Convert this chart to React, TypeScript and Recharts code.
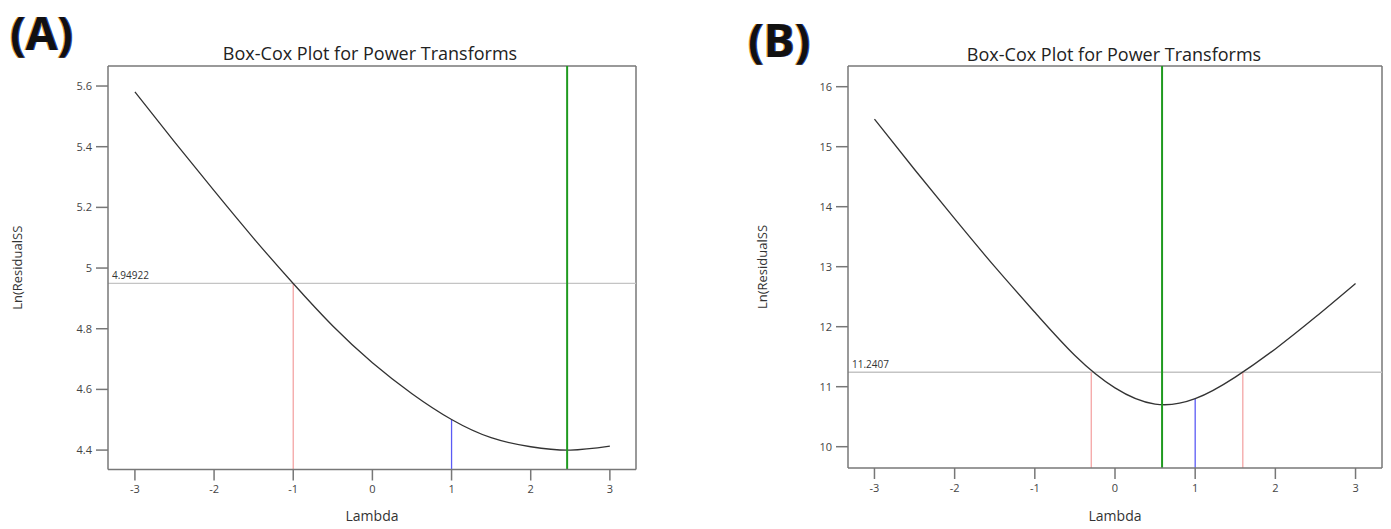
import { LineChart, Line, XAxis, YAxis, ReferenceLine } from 'recharts';

// lambda grid shared by both Box-Cox curves
const lambdas = [-3, -2.5, -2, -1.5, -1, -0.5, 0, 0.5, 1, 1.5, 2, 2.5, 3];
const lnSSA = [5.581, 5.416, 5.255, 5.098, 4.949, 4.809, 4.688, 4.586, 4.501, 4.441, 4.411, 4.4, 4.413];
const lnSSB = [15.46, 14.62, 13.8, 13.0, 12.24, 11.52, 10.98, 10.71, 10.8, 11.16, 11.63, 12.16, 12.72];

const xTicks = [-3, -2, -1, 0, 1, 2, 3];
const yTicksA = [4.4, 4.6, 4.8, 5, 5.2, 5.4, 5.6];
const yTicksB = [10, 11, 12, 13, 14, 15, 16];

const thresholdA = 4.94922;
const thresholdB = 11.2407;
const ciLambdasA = [-1];
const ciLambdasB = [-0.296, 1.594];
const bestLambdaA = 2.46;
const bestLambdaB = 0.587;
const currentLambda = 1;

const FONT = '"Open Sans", "Noto Sans", sans-serif';
const FRAME = '#777';

interface PanelProps {
  left: number;
  width: number;
  values: number[];
  xDomain: [number, number];
  yDomain: [number, number];
  yTicks: number[];
  threshold: number;
  thresholdLabel: string;
  ciLambdas: number[];
  bestLambda: number;
  rightMargin: number;
  xAxisHeight: number;
  yLabelOffset: number;
}

function Panel(p: PanelProps) {
  const data = lambdas.map((l, i) => ({ lambda: l, value: p.values[i] }));
  const currentValue = p.values[lambdas.indexOf(currentLambda)];
  const tick = { fontSize: 11, fill: '#444', fontFamily: FONT };
  return (
    <div style={{ position: 'absolute', left: p.left, top: 0 }}>
      <LineChart width={p.width} height={529} data={data} margin={{ top: 66, right: p.rightMargin, bottom: 0, left: 0 }}>
        <XAxis dataKey="lambda" type="number" domain={p.xDomain} ticks={xTicks} allowDataOverflow
          height={p.xAxisHeight} tick={tick} tickSize={11} tickMargin={5}
          axisLine={{ stroke: FRAME, strokeWidth: 1.5 }} tickLine={{ stroke: FRAME, strokeWidth: 1.5 }}
          label={{ value: 'Lambda', position: 'insideBottom', offset: 8, style: { fontSize: 14, fill: '#333', fontFamily: FONT } }} />
        <YAxis type="number" domain={p.yDomain} ticks={p.yTicks} allowDataOverflow width={108}
          tick={tick} tickSize={12} tickMargin={4}
          axisLine={{ stroke: FRAME, strokeWidth: 1.5 }} tickLine={{ stroke: FRAME, strokeWidth: 1.5 }}
          label={{ value: 'Ln(ResidualSS', angle: -90, position: 'insideLeft', offset: p.yLabelOffset,
            style: { textAnchor: 'middle', fontSize: 13, fill: '#333', fontFamily: FONT } }} />
        {/* top and right edges of the plot frame */}
        <ReferenceLine y={p.yDomain[1]} stroke={FRAME} strokeWidth={1.5} />
        <ReferenceLine x={p.xDomain[1]} stroke={FRAME} strokeWidth={1.5} />
        <ReferenceLine y={p.threshold} stroke="#c4c4c4" strokeWidth={1.3}
          label={{ value: p.thresholdLabel, position: 'insideBottomLeft', offset: 4, style: { fontSize: 10, fill: '#333', fontFamily: FONT } }} />
        {p.ciLambdas.map(l => (
          <ReferenceLine key={l} segment={[{ x: l, y: p.yDomain[0] }, { x: l, y: p.threshold }]} stroke="#f4a5a5" strokeWidth={1.3} />
        ))}
        <ReferenceLine segment={[{ x: currentLambda, y: p.yDomain[0] }, { x: currentLambda, y: currentValue }]} stroke="#5b5bf5" strokeWidth={1.3} />
        <Line type="natural" dataKey="value" stroke="#333" strokeWidth={1.3} dot={false} isAnimationActive={false} />
        <ReferenceLine x={p.bestLambda} stroke="#1f9a1f" strokeWidth={2} />
      </LineChart>
    </div>
  );
}

const titleStyle: React.CSSProperties = {
  position: 'absolute', transform: 'translate(-50%, -50%)', fontFamily: FONT, fontSize: 18,
  color: '#222', whiteSpace: 'nowrap',
};
const tagStyle: React.CSSProperties = {
  position: 'absolute', fontFamily: FONT, fontWeight: 700, fontSize: 46, lineHeight: 1,
  color: '#111', textShadow: '-1px 0 #e0a040, 1px 0 #3050b0',
};

export default function App() {
  return (
    <div style={{ position: 'absolute', left: 0, top: 0, width: 1391, height: 529, background: '#fff', overflow: 'hidden' }}>
      <Panel left={0} width={695} values={lnSSA} xDomain={[-3.34, 3.33]} yDomain={[4.336, 5.666]} yTicks={yTicksA}
        threshold={thresholdA} thresholdLabel="4.94922" ciLambdas={ciLambdasA} bestLambda={bestLambdaA}
        rightMargin={59} xAxisHeight={59.5} yLabelOffset={17} />
      <Panel left={740} width={651} values={lnSSB} xDomain={[-3.33, 3.33]} yDomain={[9.645, 16.345]} yTicks={yTicksB}
        threshold={thresholdB} thresholdLabel="11.2407" ciLambdas={ciLambdasB} bestLambda={bestLambdaB}
        rightMargin={9} xAxisHeight={61} yLabelOffset={22} />
      <div style={{ ...titleStyle, left: 370, top: 53 }}>Box-Cox Plot for Power Transforms</div>
      <div style={{ ...titleStyle, left: 1114, top: 54 }}>Box-Cox Plot for Power Transforms</div>
      <div style={{ ...tagStyle, left: 10, top: 9 }}>(A)</div>
      <div style={{ ...tagStyle, left: 748, top: 16 }}>(B)</div>
    </div>
  );
}
